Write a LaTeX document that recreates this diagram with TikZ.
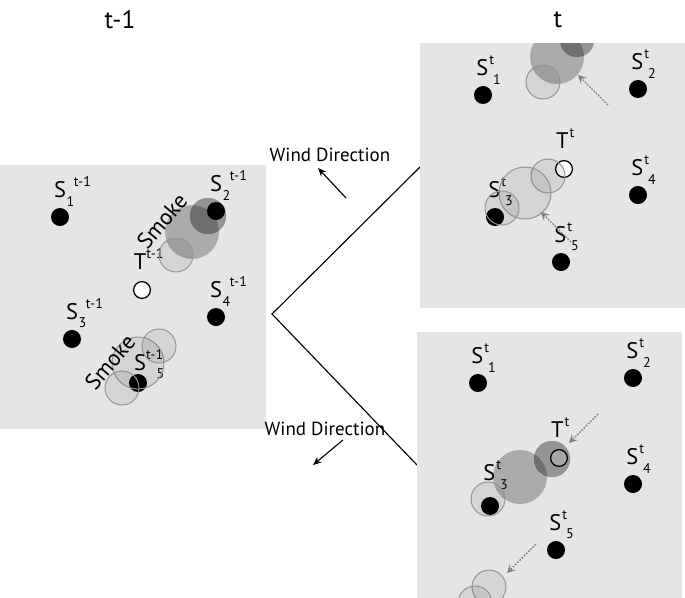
\documentclass[tikz,border=0pt]{standalone}
\usepackage{fontspec}
\setmainfont{PT Sans}
\usetikzlibrary{positioning,arrows.meta}
\newcommand{\slab}[4]{#1\rlap{\raisebox{1.0ex}{\hspace{#4}\fontsize{10}{10}\selectfont #2}}\raisebox{-0.75ex}{\fontsize{10}{10}\selectfont\hspace{0.05em}#3}}
\tikzset{
  panel/.style={fill=black!10, draw=none},
  sensor/.style={circle, fill=black, inner sep=0pt, minimum size=0.45cm},
  target/.style={circle, draw=black, fill=white, line width=0.9pt, inner sep=0pt, minimum size=0.42cm},
  lab/.style={font=\fontsize{16}{16}\selectfont, inner sep=0pt},
  smokelight/.style={draw=black!42, line width=0.7pt, fill=black, fill opacity=0.07},
  smokemid/.style={draw=none, fill=black, fill opacity=0.25},
  smokedark/.style={fill=black, fill opacity=0.35, draw=black, draw opacity=0.12},
  trail/.style={draw=black!50, line width=1pt, dash pattern=on 1.2pt off 1pt, -{Stealth[length=6pt,width=6pt,inset=2.5pt]}},
  wind/.style={line width=0.8pt, -{Stealth[length=6pt,width=5pt]}}
}

\begin{document}
\begin{tikzpicture}[x=0.025cm, y=-0.025cm]
		%%%%% START %%%%%
		\useasboundingbox (0,0) rectangle (685,598);
		
		\node[font=\fontsize{18}{18}\selectfont] (tprev) at (120,20) {t-1};
		\node[font=\fontsize{18}{18}\selectfont] (tcur) at (558,20) {t};
		
		%%%%% panel t-1 %%%%%
		\fill[panel] (0,165) rectangle (266,429);
		
		\node[sensor] (p1) at (60,217) {};
		\node[sensor] (p2) at (216,211) {};
		\node[sensor] (p3) at (72,339) {};
		\node[sensor] (p4) at (216,317) {};
		\node[sensor] (p5) at (138,383) {};
		\node[target] (pt) at (142,290) {};
		
		\node[lab, above=1pt of p1, xshift=3pt] (p1l) {\slab{S}{t-1}{1}{0.35em}};
		\node[lab, above=1pt of p2, xshift=3pt] (p2l) {\slab{S}{t-1}{2}{0.35em}};
		\node[lab, above=1pt of p3, xshift=3pt] (p3l) {\slab{S}{t-1}{3}{0.35em}};
		\node[lab, above=1pt of p4, xshift=3pt] (p4l) {\slab{S}{t-1}{4}{0.35em}};
		\node[lab, above=-4pt of p5, xshift=8pt] (p5l) {\slab{S}{t-1}{\hspace{0.7em}5}{0em}};
		\node[lab, above=2pt of pt, xshift=-1pt] (ptl) {\slab{T}{t-1}{}{0em}};
		
		\draw[smokemid] (192,232) circle (27);
		\draw[smokedark] (208,216) circle (18);
		\draw[smokelight] (176,255) circle (17);
		\draw[smokelight] (138,363) circle (26);
		\draw[smokelight] (159,346) circle (17);
		\draw[smokelight] (122,388) circle (17);
		
		\node[lab, rotate=50] (smokeup) at (162,221) {Smoke};
		\node[lab, rotate=50] (smokedown) at (110,362) {Smoke};
		
		%%%%% fork %%%%%
		\coordinate (fork) at (272,314);
		\coordinate (upend) at (420,167);
		\coordinate (downend) at (417,465);
		\draw[line width=0.8pt] (upend) -- (fork) -- (downend);
		
		\node[font=\fontsize{13.5}{13.5}\selectfont] (windup) at (330,155) {Wind Direction};
		\coordinate (wu0) at (346,198);
		\coordinate (wu1) at (318,168);
		\draw[wind] (wu0) -- (wu1);
		\node[font=\fontsize{13.5}{13.5}\selectfont] (winddown) at (325,429) {Wind Direction};
		\coordinate (wd0) at (343,440);
		\coordinate (wd1) at (313,465);
		\draw[wind] (wd0) -- (wd1);
		
		%%%%% panel t, upper %%%%%
		\fill[panel] (420,43) rectangle (685,308);
		
		\node[sensor] (a1) at (483,95) {};
		\node[sensor] (a2) at (638,89) {};
		\node[sensor] (a3) at (495,217) {};
		\node[sensor] (a4) at (638,195) {};
		\node[sensor] (a5) at (561,262) {};
		\node[target] (at) at (564,169) {};
		
		\node[lab, above=1pt of a1, xshift=4pt] (a1l) {\slab{S}{t}{\hspace{0.3em}1}{0.05em}};
		\node[lab, above=1pt of a2, xshift=4pt] (a2l) {\slab{S}{t}{\hspace{0.3em}2}{0.05em}};
		\node[lab, above=1pt of a3, xshift=4pt] (a3l) {\slab{S}{t}{\hspace{0.3em}3}{0.05em}};
		\node[lab, above=1pt of a4, xshift=4pt] (a4l) {\slab{S}{t}{\hspace{0.3em}4}{0.05em}};
		\node[lab, above=1pt of a5, xshift=4pt] (a5l) {\slab{S}{t}{\hspace{0.3em}5}{0.05em}};
		\node[lab, above=2pt of at, xshift=-1pt] (atl) {\slab{T}{t}{}{0.05em}};
		
		\begin{scope}
			\clip (420,43) rectangle (685,308);
			\draw[smokemid] (557,57) circle (27);
			\draw[smokedark] (577,40) circle (17);
			\draw[smokelight] (543,82) circle (17);
			\draw[smokelight] (548,176) circle (17);
			\draw[smokelight] (525,193) circle (26);
			\draw[smokelight] (502,208) circle (17);
		\end{scope}
		
		\coordinate (au0) at (608,105);
		\coordinate (au1) at (578,75);
		\draw[trail] (au0) -- (au1);
		\coordinate (av0) at (571,242);
		\coordinate (av1) at (541,212);
		\draw[trail] (av0) -- (av1);
		
		%%%%% panel t, lower %%%%%
		\fill[panel] (417,332) rectangle (682,598);
		
		\node[sensor] (b1) at (478,383) {};
		\node[sensor] (b2) at (633,378) {};
		\node[sensor] (b3) at (490,506) {};
		\node[sensor] (b4) at (633,484) {};
		\node[sensor] (b5) at (556,550) {};
		\node[target] (bt) at (559,458) {};
		
		\node[lab, above=1pt of b1, xshift=4pt] (b1l) {\slab{S}{t}{\hspace{0.3em}1}{0.05em}};
		\node[lab, above=1pt of b2, xshift=4pt] (b2l) {\slab{S}{t}{\hspace{0.3em}2}{0.05em}};
		\node[lab, above=5pt of b3, xshift=4pt] (b3l) {\slab{S}{t}{\hspace{0.3em}3}{0.05em}};
		\node[lab, above=1pt of b4, xshift=4pt] (b4l) {\slab{S}{t}{\hspace{0.3em}4}{0.05em}};
		\node[lab, above=1pt of b5, xshift=4pt] (b5l) {\slab{S}{t}{\hspace{0.3em}5}{0.05em}};
		\node[lab, above=2pt of bt, xshift=-1pt] (btl) {\slab{T}{t}{}{0.05em}};
		
		\begin{scope}
			\clip (417,332) rectangle (682,598);
			\draw[smokemid] (520,477) circle (27);
			\draw[smokedark] (552,459) circle (18);
			\draw[smokelight] (488,499) circle (17);
			\draw[smokelight] (489,587) circle (17);
			\draw[smokelight] (475,603) circle (17);
		\end{scope}
		
		\coordinate (bu0) at (598,414);
		\coordinate (bu1) at (569,443);
		\draw[trail] (bu0) -- (bu1);
		\coordinate (bv0) at (536,544);
		\coordinate (bv1) at (507,573);
		\draw[trail] (bv0) -- (bv1);
		
		%%%%% END %%%%%
\end{tikzpicture}
\end{document}
